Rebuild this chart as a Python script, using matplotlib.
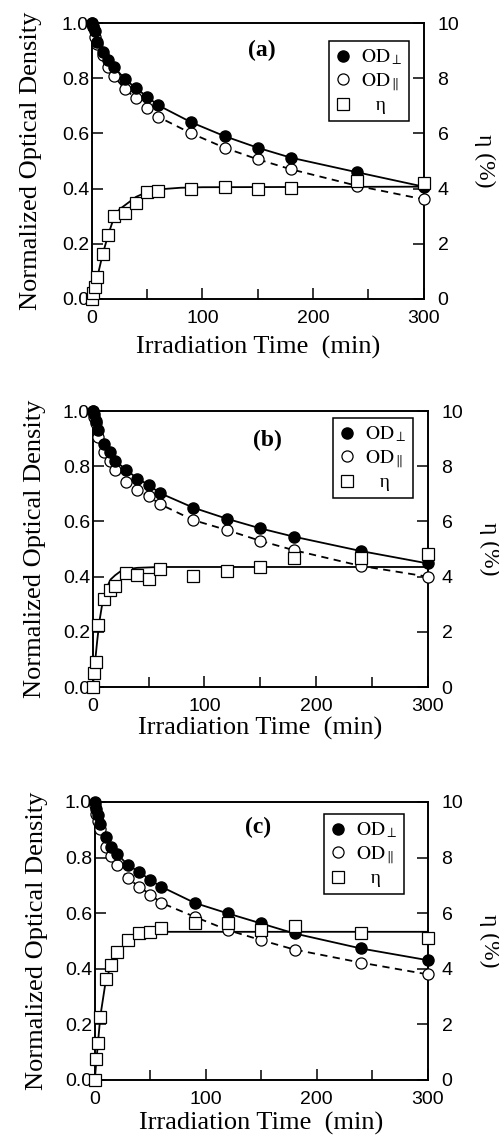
import matplotlib
matplotlib.use('Agg')
import matplotlib.pyplot as plt
from matplotlib.lines import Line2D

plt.rcParams['mathtext.fontset'] = 'stix'

# irradiation times (min)
times = [0, 1, 3, 5, 10, 15, 20, 30, 40, 50, 60, 90, 120, 150, 180, 240, 300]

# panel (a)
od_perp_a = [1.0, 0.99, 0.97, 0.93, 0.895, 0.865, 0.84, 0.797, 0.763, 0.733, 0.702,
             0.64, 0.59, 0.548, 0.512, 0.459, 0.407]
od_par_a = [1.0, 0.985, 0.95, 0.925, 0.883, 0.84, 0.807, 0.76, 0.727, 0.693, 0.66,
            0.6, 0.548, 0.506, 0.47, 0.41, 0.361]
eta_a = [0.0, 0.2, 0.45, 0.78, 1.64, 2.33, 3.0, 3.1, 3.49, 3.87, 3.93,
         4.0, 4.07, 3.98, 4.01, 4.28, 4.19]
fit_t_a = [0, 3, 5, 10, 15, 20, 25, 30, 40, 50, 60, 80, 100, 300]
fit_eta_a = [0.0, 0.4, 0.8, 1.65, 2.35, 2.95, 3.25, 3.4, 3.7, 3.88, 3.97, 4.03, 4.05, 4.07]

# panel (b)
od_perp_b = [1.0, 0.99, 0.965, 0.93, 0.88, 0.85, 0.82, 0.787, 0.755, 0.733, 0.703,
             0.65, 0.61, 0.575, 0.545, 0.493, 0.448]
od_par_b = [1.0, 0.98, 0.955, 0.906, 0.852, 0.819, 0.786, 0.743, 0.713, 0.692, 0.663,
            0.605, 0.569, 0.53, 0.496, 0.439, 0.4]
eta_b = [0.0, 0.5, 0.9, 2.25, 3.18, 3.5, 3.66, 4.12, 4.06, 3.9, 4.27,
         4.02, 4.2, 4.36, 4.69, 4.66, 4.81]
fit_t_b = [0, 2, 4, 6, 8, 10, 13, 16, 20, 25, 30, 40, 60, 300]
fit_eta_b = [0.0, 0.9, 1.7, 2.4, 2.9, 3.25, 3.65, 3.9, 4.05, 4.2, 4.27, 4.32, 4.35, 4.35]

# panel (c)
od_perp_c = [1.0, 0.976, 0.952, 0.922, 0.874, 0.838, 0.814, 0.772, 0.749, 0.719, 0.695,
             0.637, 0.599, 0.563, 0.527, 0.473, 0.431]
od_par_c = [0.988, 0.958, 0.93, 0.904, 0.838, 0.804, 0.772, 0.725, 0.695, 0.667, 0.637,
            0.587, 0.539, 0.503, 0.469, 0.422, 0.38]
eta_c = [0.0, 0.74, 1.32, 2.28, 3.62, 4.13, 4.61, 5.03, 5.27, 5.33, 5.47,
         5.63, 5.63, 5.39, 5.54, 5.27, 5.09]
fit_t_c = [0, 1, 3, 5, 10, 15, 20, 30, 40, 50, 60, 300]
fit_eta_c = [0.0, 0.5, 1.4, 2.3, 3.6, 4.15, 4.55, 5.0, 5.2, 5.3, 5.33, 5.33]

# tag, data..., axes rect, tag pos, legend pos, xlabel pad, ylabel pad
panels = [
    ('(a)', od_perp_a, od_par_a, eta_a, fit_t_a, fit_eta_a,
     [0.184, 0.7375, 0.665, 0.2423], (0.512, 0.902), (0.714, 0.935), 6, 14),
    ('(b)', od_perp_b, od_par_b, eta_b, fit_t_b, fit_eta_b,
     [0.186, 0.3968, 0.671, 0.2423], (0.522, 0.895), (0.716, 0.975), 1, 12),
    ('(c)', od_perp_c, od_par_c, eta_c, fit_t_c, fit_eta_c,
     [0.190, 0.0518, 0.667, 0.2441], (0.49, 0.91), (0.688, 0.957), 3, 12),
]

serif = 'Liberation Serif'
sans = 'Liberation Sans'

fig = plt.figure(figsize=(4.99, 11.39), dpi=100)

for tag, perp, par, eta, ft, feta, rect, tagpos, legpos, xpad, ypad in panels:
    ax = fig.add_axes(rect)
    ax2 = ax.twinx()
    ax.set_zorder(ax2.get_zorder() + 1)
    ax.patch.set_visible(False)

    # fit lines
    ax.plot(times, perp, '-', color='black', lw=1.3, zorder=2)
    ax.plot(times, par, '--', color='black', lw=1.3, dashes=(4, 3), zorder=2)
    ax2.plot(ft, feta, '-', color='black', lw=1.3)
    # markers
    ax.plot(times, par, 'o', ms=8, mfc='white', mec='black', mew=0.9,
            clip_on=False, zorder=3)
    ax.plot(times, perp, 'o', ms=8, mfc='black', mec='black',
            clip_on=False, zorder=4)
    ax.plot(times, [e / 10 for e in eta], 's', ms=8, mfc='white',
            mec='black', mew=0.9, clip_on=False, zorder=5)

    ax.set_xlim(0, 300)
    ax.set_ylim(0, 1.0)
    ax2.set_ylim(0, 10)
    ax.set_xticks([0, 100, 200, 300])
    ax.set_xticks([50, 150, 250], minor=True)
    ax.set_yticks([0, 0.2, 0.4, 0.6, 0.8, 1.0])
    ax.set_yticklabels(['0.0', '0.2', '0.4', '0.6', '0.8', '1.0'])
    ax2.set_yticks([0, 2, 4, 6, 8, 10])

    ax.tick_params(axis='both', which='major', direction='in', length=8, width=1.1,
                   labelsize=14)
    ax.tick_params(axis='x', which='minor', direction='in', length=7, width=1.1)
    ax.tick_params(axis='y', pad=2)
    ax.tick_params(axis='x', pad=8)
    ax2.tick_params(axis='y', direction='in', length=8, width=1.1, labelsize=14, pad=10)
    for lab in ax.get_xticklabels() + ax.get_yticklabels() + ax2.get_yticklabels():
        lab.set_family(sans)
    for a in (ax, ax2):
        for s in a.spines.values():
            s.set_linewidth(1.2)

    ax.set_xlabel('Irradiation Time  (min)', family=serif, fontsize=19, labelpad=xpad)
    ax.set_ylabel('Normalized Optical Density', family=serif, fontsize=19, labelpad=ypad)
    ax.text(1.185, 0.5, 'η (%)', transform=ax.transAxes, rotation=270,
            ha='center', va='center', family=serif, fontsize=17)
    ax.text(tagpos[0], tagpos[1], tag, transform=ax.transAxes, ha='center',
            va='center', family=serif, fontsize=17, fontweight='bold')

    handles = [
        Line2D([], [], ls='none', marker='o', ms=8, mfc='black', mec='black'),
        Line2D([], [], ls='none', marker='o', ms=8, mfc='white', mec='black', mew=0.9),
        Line2D([], [], ls='none', marker='s', ms=8, mfc='white', mec='black', mew=0.9),
    ]
    labels = [r'$\mathrm{OD}_{\perp}$', r'$\mathrm{OD}_{\parallel}$', '   η']
    leg = ax.legend(handles, labels, loc='upper left', bbox_to_anchor=legpos,
                    borderaxespad=0, fancybox=False, edgecolor='black',
                    framealpha=1, prop={'family': serif, 'size': 14},
                    handlelength=0.8, handletextpad=0.5, labelspacing=0.2,
                    borderpad=0.35)
    leg.get_frame().set_linewidth(1.1)
    leg.set_zorder(10)

plt.savefig('out.png', dpi=100)
